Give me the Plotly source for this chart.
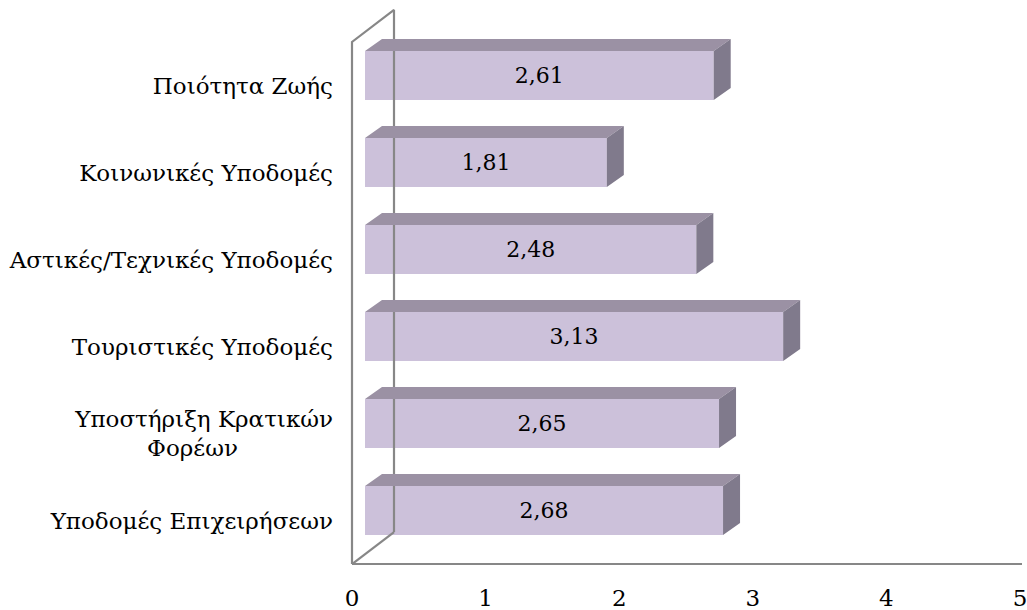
import plotly.graph_objects as go

# ---------------- data ----------------
categories = [
    "Υποδομές Επιχειρήσεων",
    "Υποστήριξη Κρατικών<br>Φορέων",
    "Τουριστικές Υποδομές",
    "Αστικές/Τεχνικές Υποδομές",
    "Κοινωνικές Υποδομές",
    "Ποιότητα Ζωής",
]
values = [2.68, 2.65, 3.13, 2.48, 1.81, 2.61]
x_tick_vals = [0, 1, 2, 3, 4, 5]
x_tick_text = ["0", "1", "2", "3", "4", "5"]

# ---------------- style / 3D geometry ----------------
FONT = "DejaVu Serif"
FRONT = "#CCC1DA"
TOP = "#9B91A4"
SIDE = "#807A8C"
WALL = "#878787"

PX_X = 133.6   # pixels per value unit
PX_Y = 87.0    # pixels per category
front_dx, front_dy = 13 / PX_X, 10 / PX_Y     # bar front plane offset (depth)
depth_dx, depth_dy = 17 / PX_X, 12 / PX_Y     # bar depth
wall_dx, wall_dy = 42 / PX_X, 32 / PX_Y       # full depth of the walls
half = 24.5 / PX_Y                            # half bar thickness

# padding so that the second line of the two-line label looks centred
ticktext = [c.replace("<br>Φορέων", "<br>Φορέων" + "\u00a0" * 13) for c in categories]

pos = list(range(len(categories)))

fig = go.Figure()

# walls / floor edges
wx, wy = [], []
y_floor, y_top = -0.5, len(categories) - 0.5
x_end = 5.015
for seg in [
    [(0, y_floor), (x_end, y_floor)],
    [(0, y_floor), (0, y_top), (wall_dx, y_top + wall_dy), (wall_dx, y_floor + wall_dy)],
    [(0, y_floor), (wall_dx, y_floor + wall_dy)],
]:
    for (a, b) in seg:
        wx.append(a); wy.append(b)
    wx.append(None); wy.append(None)
fig.add_trace(go.Scatter(x=wx, y=wy, mode="lines", line=dict(color=WALL, width=2.2),
                         hoverinfo="skip", showlegend=False))

# top and side faces
tx, ty, sx, sy = [], [], [], []
for p, v in zip(pos, values):
    x0 = front_dx
    x1 = front_dx + v
    yt = p + front_dy + half
    yb = p + front_dy - half
    tx += [x0, x0 + depth_dx, x1 + depth_dx, x1, x0, None]
    ty += [yt, yt + depth_dy, yt + depth_dy, yt, yt, None]
    sx += [x1, x1 + depth_dx, x1 + depth_dx, x1, x1, None]
    sy += [yt, yt + depth_dy, yb + depth_dy, yb, yt, None]
fig.add_trace(go.Scatter(x=tx, y=ty, mode="lines", fill="toself", fillcolor=TOP,
                         line=dict(width=0, color=TOP), hoverinfo="skip", showlegend=False))
fig.add_trace(go.Scatter(x=sx, y=sy, mode="lines", fill="toself", fillcolor=SIDE,
                         line=dict(width=0, color=SIDE), hoverinfo="skip", showlegend=False))

# front faces
fig.add_trace(go.Bar(
    orientation="h",
    y=[p + front_dy for p in pos],
    x=values,
    base=front_dx,
    width=2 * half,
    marker=dict(color=FRONT, line=dict(width=0)),
    texttemplate="%{x:.2f}",
    textposition="inside",
    insidetextanchor="middle",
    textangle=0,
    textfont=dict(family=FONT, size=22, color="black"),
    hoverinfo="skip",
    showlegend=False,
))

fig.update_layout(
    width=1027, height=610,
    margin=dict(l=340, r=0, t=5, b=40),
    paper_bgcolor="white", plot_bgcolor="white",
    separators=",.",
    font=dict(family=FONT, size=23, color="black"),
    hovermode=False,
    xaxis=dict(range=[-12 / PX_X, 675 / PX_X], tickvals=x_tick_vals, ticktext=x_tick_text,
               showgrid=False, zeroline=False, showline=False,
               ticks="outside", ticklen=7, tickcolor="rgba(0,0,0,0)",
               ticklabeloverflow="allow",
               tickfont=dict(family=FONT, size=23, color="black"), fixedrange=True),
    yaxis=dict(range=[-0.569, 5.925], tickvals=pos, ticktext=ticktext,
               showgrid=False, zeroline=False, showline=False, ticks="",
               ticklabelstandoff=6,
               tickfont=dict(family=FONT, size=23, color="black"), fixedrange=True),
    uniformtext=dict(minsize=10, mode="show"),
)

# remove the default page margin so the figure sits at the window's top-left corner
fig.write_html(
    "out.html",
    config={"displayModeBar": False, "staticPlot": True},
    post_script="document.body.style.margin='0';document.body.style.overflow='hidden';",
)
